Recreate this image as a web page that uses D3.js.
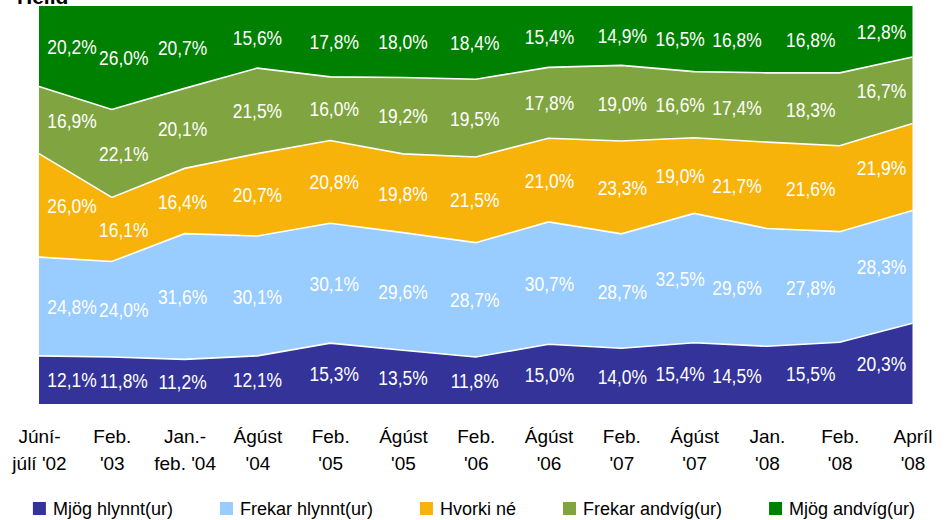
<!DOCTYPE html>
<html>
<head>
<meta charset="utf-8">
<script src="https://cdn.jsdelivr.net/npm/d3@7"></script>
<style>
  body { margin: 0; background: #fff; }
  text { font-family: "Liberation Sans", Arial, sans-serif; }
</style>
</head>
<body>
<div id="chart"></div>
<script>
// survey periods (two-line tick labels)
const periods = [
  ["Júní-", "júlí '02"], ["Feb.", "'03"], ["Jan.-", "feb. '04"], ["Ágúst", "'04"],
  ["Feb.", "'05"], ["Ágúst", "'05"], ["Feb.", "'06"], ["Ágúst", "'06"],
  ["Feb.", "'07"], ["Ágúst", "'07"], ["Jan.", "'08"], ["Feb.", "'08"], ["Apríl", "'08"]
];

// answer shares in %, bottom to top
const mjogHlynnt   = [12.1, 11.8, 11.2, 12.1, 15.3, 13.5, 11.8, 15.0, 14.0, 15.4, 14.5, 15.5, 20.3];
const frekarHlynnt = [24.8, 24.0, 31.6, 30.1, 30.1, 29.6, 28.7, 30.7, 28.7, 32.5, 29.6, 27.8, 28.3];
const hvorkiNe     = [26.0, 16.1, 16.4, 20.7, 20.8, 19.8, 21.5, 21.0, 23.3, 19.0, 21.7, 21.6, 21.9];
const frekarAndvig = [16.9, 22.1, 20.1, 21.5, 16.0, 19.2, 19.5, 17.8, 19.0, 16.6, 17.4, 18.3, 16.7];
const mjogAndvig   = [20.2, 26.0, 20.7, 15.6, 17.8, 18.0, 18.4, 15.4, 14.9, 16.5, 16.8, 16.8, 12.8];

const seriesNames = ["Mjög hlynnt(ur)", "Frekar hlynnt(ur)", "Hvorki né", "Frekar andvíg(ur)", "Mjög andvíg(ur)"];
const seriesValues = [mjogHlynnt, frekarHlynnt, hvorkiNe, frekarAndvig, mjogAndvig];
const colors = ["#333399", "#99ccff", "#f7b30a", "#80a540", "#008000"];

// horizontal nudge of the value labels at each period (as in the original)
const labelNudge = [33, 12, -2, 0, 4, 0, -1, 1, 1, -14, -30, -29, -31];

const width = 948, height = 520;
const plot = { left: 39, right: 912.5, top: 6, bottom: 404 };

const svg = d3.select("#chart").append("svg")
  .attr("width", width)
  .attr("height", height);

const labels = periods.map(p => p.join(" "));

// table for d3.stack
const rows = labels.map((lab, i) => {
  const r = { period: lab };
  seriesNames.forEach((s, k) => r[s] = seriesValues[k][i]);
  return r;
});

const stacked = d3.stack()
  .keys(seriesNames)
  .offset(d3.stackOffsetExpand)(rows);

const x = d3.scalePoint().domain(labels).range([plot.left, plot.right]);
const y = d3.scaleLinear().domain([0, 1]).range([plot.bottom, plot.top]);

// title, mostly cut off at the top edge (as in the original)
svg.append("text")
  .attr("x", 17)
  .attr("y", 3.5)
  .attr("font-size", 21)
  .attr("font-weight", "bold")
  .attr("fill", "#000")
  .text("Heild");

const area = d3.area()
  .x(d => x(d.data.period))
  .y0(d => y(d[0]))
  .y1(d => y(d[1]));

svg.append("g").selectAll("path")
  .data(stacked)
  .enter()
  .append("path")
  .attr("d", area)
  .attr("fill", (d, i) => colors[i]);

// white borders between bands
const line = d3.line()
  .x(d => x(d.data.period))
  .y(d => y(d[1]));

svg.append("g").selectAll("path")
  .data(stacked.slice(0, 4))
  .enter()
  .append("path")
  .attr("d", line)
  .attr("fill", "none")
  .attr("stroke", "#fff")
  .attr("stroke-width", 1.6);

// value labels
const fmt = v => v.toFixed(1).replace(".", ",") + "%";

stacked.forEach((layer, k) => {
  svg.append("g").selectAll("text")
    .data(layer)
    .enter()
    .append("text")
    .attr("transform", (d, i) =>
      `translate(${x(d.data.period) + labelNudge[i]},${y((d[0] + d[1]) / 2)}) scale(0.83,1)`)
    .attr("text-anchor", "middle")
    .attr("dy", "0.36em")
    .attr("font-size", 21)
    .attr("fill", "#fff")
    .text((d, i) => fmt(seriesValues[k][i]));
});

// x axis, labels only
const xAxis = svg.append("g")
  .attr("transform", `translate(0,${plot.bottom})`)
  .call(d3.axisBottom(x).tickSize(0));

xAxis.select(".domain").remove();
xAxis.selectAll(".tick text")
  .attr("dy", null)
  .attr("font-size", 19)
  .attr("font-family", null)
  .attr("fill", "#000")
  .each(function(d, i) {
    const t = d3.select(this).text(null);
    t.append("tspan").attr("x", 0).attr("y", 39).text(periods[i][0]);
    t.append("tspan").attr("x", 0).attr("y", 66).text(periods[i][1]);
  });

// legend, centred
const legend = svg.append("g");
const items = legend.selectAll("g")
  .data(seriesNames)
  .enter()
  .append("g");

items.append("rect")
  .attr("y", 502)
  .attr("width", 13)
  .attr("height", 13)
  .attr("fill", (d, i) => colors[i]);

items.append("text")
  .attr("x", 20)
  .attr("y", 515)
  .attr("font-size", 18)
  .attr("fill", "#000")
  .text(d => d);

const gap = 47;
let cursor = 0;
const offsets = [];
items.each(function() {
  const w = 20 + d3.select(this).select("text").node().getComputedTextLength();
  offsets.push(cursor);
  cursor += w + gap;
});
const totalW = cursor - gap;
const startX = (width - totalW) / 2;
items.attr("transform", (d, i) => `translate(${startX + offsets[i]},0)`);
</script>
</body>
</html>
